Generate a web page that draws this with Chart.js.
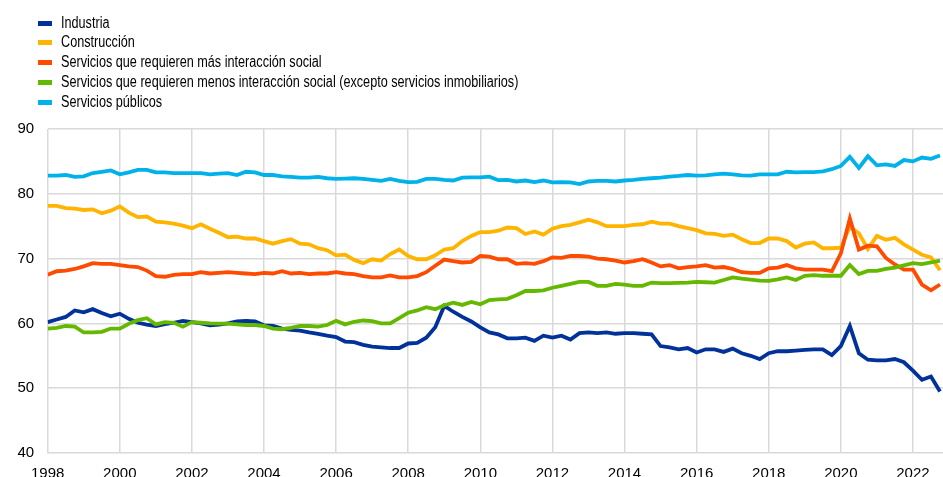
<!DOCTYPE html>
<html>
<head>
<meta charset="utf-8">
<script src="https://cdn.jsdelivr.net/npm/chart.js@4.4.1/dist/chart.umd.min.js"></script>
<style>
  html, body { margin: 0; padding: 0; background: #fff; overflow: hidden; width: 943px; height: 477px; }
  #wrap { position: absolute; left: 0; top: 0; width: 950px; height: 495px; }
  #legend { position: absolute; left: 0; top: 0; font-family: "Liberation Sans Narrow", "Arial Narrow", "Liberation Sans", Arial, sans-serif; font-size: 16px; color: #000; }
  .item { position: absolute; left: 38px; height: 20px; white-space: nowrap; }
  .box { position: absolute; left: 0; top: 8px; width: 14px; height: 5px; }
  .txt { position: absolute; left: 23px; top: 1px; line-height: 18px; transform: scaleX(0.79); transform-origin: 0 50%; }
</style>
</head>
<body>
<div id="wrap"><canvas id="c" width="950" height="495"></canvas></div>
<div id="legend"></div>
<script>
// ---- Data (quarterly, 1998 Q1 - 2022 Q4) ----
const startYear = 1998;
const seriesNames = [
  "Industria",
  "Construcción",
  "Servicios que requieren más interacción social",
  "Servicios que requieren menos interacción social (excepto servicios inmobiliarios)",
  "Servicios públicos"
];
const seriesColors = ["#003299", "#FFB400", "#FF4B00", "#65B800", "#00B1EA"];
const yTicks = [40, 50, 60, 70, 80, 90];
const xTickYears = [1998, 2000, 2002, 2004, 2006, 2008, 2010, 2012, 2014, 2016, 2018, 2020, 2022];

const industria = [
  60.2, 60.6, 61.0, 62.0, 61.7, 62.2, 61.6, 61.1, 61.5, 60.7, 60.1, 59.8,
  59.6, 59.9, 60.1, 60.4, 60.2, 60.0, 59.7, 59.8, 60.0, 60.3, 60.4, 60.3,
  59.7, 59.6, 59.2, 59.0, 58.9, 58.6, 58.4, 58.1, 57.9, 57.2, 57.1, 56.7,
  56.4, 56.3, 56.2, 56.2, 56.9, 57.0, 57.8, 59.4, 62.7, 61.8, 61.0, 60.3,
  59.4, 58.6, 58.3, 57.7, 57.7, 57.8, 57.3, 58.1, 57.8, 58.1, 57.5, 58.5,
  58.6, 58.5, 58.6, 58.4, 58.5, 58.5, 58.4, 58.3, 56.5, 56.3, 56.0, 56.2,
  55.5, 56.0, 56.0, 55.6, 56.1, 55.4, 55.0, 54.5, 55.4, 55.7, 55.7, 55.8,
  55.9, 56.0, 56.0, 55.1, 56.5, 59.6, 55.4, 54.4, 54.3, 54.3, 54.5, 54.0,
  52.7, 51.3, 51.8, 49.5
];
const construccion = [
  78.15, 78.15, 77.8, 77.7, 77.5, 77.6, 77.0, 77.4, 78.05, 77.1, 76.4, 76.5,
  75.7, 75.6, 75.4, 75.1, 74.7, 75.3, 74.6, 74.0, 73.3, 73.4, 73.1, 73.1,
  72.7, 72.3, 72.7, 73.0, 72.3, 72.2, 71.6, 71.3, 70.5, 70.6, 69.8, 69.3,
  69.9, 69.7, 70.7, 71.4, 70.4, 69.9, 69.9, 70.5, 71.4, 71.6, 72.7, 73.5,
  74.1, 74.1, 74.3, 74.8, 74.7, 73.8, 74.2, 73.7, 74.6, 75.0, 75.2, 75.6,
  76.0, 75.6, 75.0, 75.0, 75.0, 75.2, 75.3, 75.7, 75.4, 75.4, 75.0, 74.7,
  74.4, 73.9, 73.8, 73.5, 73.7, 73.0, 72.4, 72.4, 73.1, 73.1, 72.7, 71.7,
  72.3, 72.5, 71.6, 71.6, 71.7, 74.9, 73.9, 71.5, 73.5, 72.9, 73.2, 72.2,
  71.4, 70.6, 70.2, 68.2
];
const masInteraccion = [
  67.5, 68.05, 68.15, 68.4, 68.8, 69.3, 69.2, 69.2, 69.0, 68.8, 68.7, 68.15,
  67.3, 67.2, 67.5, 67.6, 67.6, 67.9, 67.7, 67.8, 67.9, 67.8, 67.7, 67.6,
  67.8, 67.7, 68.05, 67.7, 67.8, 67.6, 67.7, 67.7, 67.9, 67.7, 67.6, 67.3,
  67.1, 67.1, 67.4, 67.1, 67.1, 67.3, 67.9, 68.9, 69.85, 69.6, 69.4, 69.5,
  70.4, 70.3, 69.9, 69.9, 69.2, 69.3, 69.2, 69.6, 70.2, 70.1, 70.4, 70.4,
  70.3, 70.0, 69.9, 69.7, 69.4, 69.6, 69.9, 69.4, 68.8, 69.0, 68.5, 68.7,
  68.8, 69.0, 68.6, 68.7, 68.4, 67.9, 67.8, 67.8, 68.5, 68.6, 69.0, 68.5,
  68.3, 68.3, 68.3, 68.05, 70.8, 76.2, 71.4, 72.0, 71.9, 70.1, 69.1, 68.3,
  68.3, 66.0, 65.1, 66.0
];
const menosInteraccion = [
  59.2, 59.3, 59.6, 59.5, 58.6, 58.6, 58.7, 59.2, 59.2, 59.95, 60.5, 60.8,
  59.85, 60.2, 60.1, 59.5, 60.2, 60.1, 60.0, 59.95, 59.95, 59.85, 59.75, 59.75,
  59.6, 59.2, 59.1, 59.3, 59.6, 59.6, 59.5, 59.75, 60.4, 59.85, 60.25, 60.45,
  60.35, 60.0, 60.0, 60.8, 61.65, 62.0, 62.5, 62.2, 62.8, 63.2, 62.85, 63.3,
  62.95, 63.6, 63.7, 63.8, 64.35, 65.0, 65.0, 65.1, 65.5, 65.8, 66.1, 66.4,
  66.4, 65.8, 65.8, 66.1, 66.0, 65.8, 65.8, 66.3, 66.2, 66.2, 66.25, 66.3,
  66.4, 66.35, 66.3, 66.7, 67.1, 66.9, 66.75, 66.6, 66.55, 66.8, 67.1, 66.7,
  67.35, 67.45, 67.35, 67.35, 67.35, 69.0, 67.6, 68.1, 68.1, 68.4, 68.6, 68.95,
  69.3, 69.15, 69.4, 69.7
];
const publicos = [
  82.8, 82.8, 82.9, 82.6, 82.7, 83.2, 83.4, 83.6, 83.0, 83.3, 83.7, 83.7,
  83.3, 83.3, 83.2, 83.2, 83.2, 83.2, 83.0, 83.1, 83.2, 82.9, 83.4, 83.3,
  82.9, 82.9, 82.7, 82.6, 82.5, 82.5, 82.6, 82.4, 82.3, 82.35, 82.4, 82.3,
  82.15, 82.0, 82.3, 82.0, 81.8, 81.85, 82.3, 82.3, 82.15, 82.05, 82.5, 82.55,
  82.55, 82.65, 82.1, 82.15, 81.9, 82.05, 81.8, 82.05, 81.75, 81.8, 81.75, 81.5,
  81.9, 82.0, 82.0, 81.9, 82.05, 82.15, 82.3, 82.4, 82.5, 82.65, 82.75, 82.9,
  82.8, 82.85, 83.0, 83.1, 83.0, 82.85, 82.8, 83.0, 83.0, 83.0, 83.4, 83.3,
  83.35, 83.35, 83.45, 83.8, 84.3, 85.7, 84.0, 85.8, 84.4, 84.55, 84.3, 85.2,
  85.0, 85.6, 85.4, 85.9
];
const seriesValues = [industria, construccion, masInteraccion, menosInteraccion, publicos];

// quarter positions on the time axis (year + quarter fraction)
const quarterX = industria.map((_, i) => startYear + i / 4);

// ---- HTML legend (vertical list, top-left) ----
const legendEl = document.getElementById('legend');
seriesNames.forEach((name, i) => {
  const it = document.createElement('div');
  it.className = 'item';
  it.style.top = (12.5 + i * 19.9) + 'px';
  const b = document.createElement('span');
  b.className = 'box';
  b.style.background = seriesColors[i];
  const t = document.createElement('span');
  t.className = 'txt';
  t.textContent = name;
  it.appendChild(b); it.appendChild(t);
  legendEl.appendChild(it);
});

// ---- Chart ----
const datasets = seriesNames.map((name, i) => ({
  label: name,
  data: seriesValues[i].map((v, k) => ({ x: quarterX[k], y: v })),
  borderColor: seriesColors[i],
  backgroundColor: seriesColors[i],
  borderWidth: 3.8,
  pointRadius: 0,
  tension: 0,
  fill: false,
  order: seriesNames.length - i
}));

const gridColor = '#d9d9d9';
new Chart(document.getElementById('c'), {
  type: 'line',
  data: { datasets },
  options: {
    responsive: false,
    animation: false,
    layout: { padding: { top: 129, left: 4, right: 1, bottom: 0 } },
    plugins: { legend: { display: false }, tooltip: { enabled: false } },
    scales: {
      x: {
        type: 'linear',
        min: 1998,
        max: 2023,
        border: { display: false },
        grid: { color: gridColor, lineWidth: 1.5, drawTicks: false },
        afterBuildTicks: (axis) => {
          axis.ticks = xTickYears.map(v => ({ value: v }));
        },
        ticks: {
          padding: 12,
          maxRotation: 0,
          autoSkip: false,
          color: '#000',
          font: { family: '"Liberation Sans", Arial, sans-serif', size: 15 },
          callback: (v) => String(v)
        }
      },
      y: {
        min: 40,
        max: 90,
        border: { display: false },
        grid: { color: gridColor, lineWidth: 1.5, drawTicks: false },
        afterBuildTicks: (axis) => {
          axis.ticks = yTicks.map(v => ({ value: v }));
        },
        ticks: {
          padding: 13.5,
          color: '#000',
          font: { family: '"Liberation Sans", Arial, sans-serif', size: 15 }
        }
      }
    }
  }
});
</script>
</body>
</html>
